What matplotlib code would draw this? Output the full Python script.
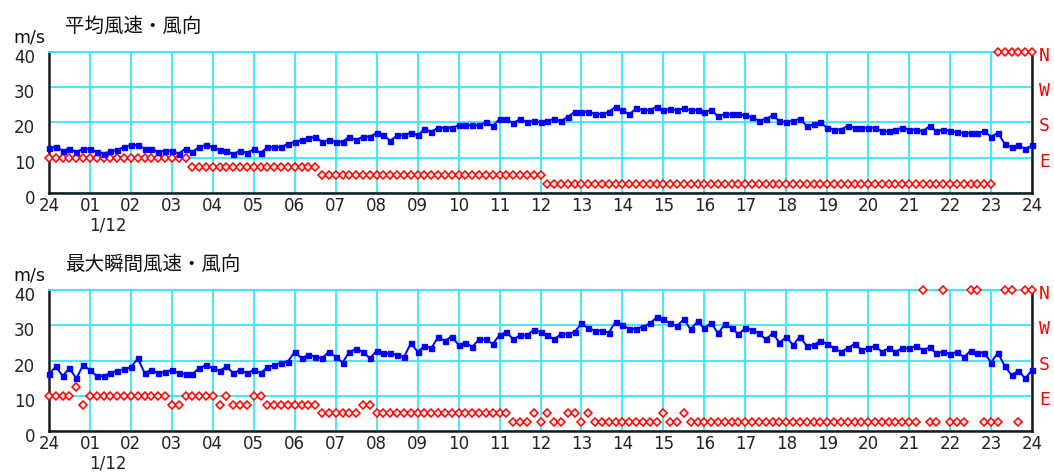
import numpy as np
import matplotlib
matplotlib.use("Agg")
import matplotlib.pyplot as plt
from matplotlib.transforms import ScaledTranslation

plt.rcParams['font.family'] = ['Noto Sans CJK JP', 'DejaVu Sans']

# ---------------- data ----------------
hour_labels = ['24', '01', '02', '03', '04', '05', '06', '07', '08', '09', '10', '11',
               '12', '13', '14', '15', '16', '17', '18', '19', '20', '21', '22', '23', '24']
date_label = '1/12'
speed_ticks = [0, 10, 20, 30, 40]
dir_axis_labels = ['E', 'S', 'W', 'N']
dir_axis_values = [10, 20, 30, 40]
# position of each compass direction on the 0-40 scale (N=40, E=10, S=20, W=30)
dir_scale = {'N': 40, 'NNE': 2.5, 'NE': 5, 'ENE': 7.5, 'E': 10, 'ESE': 12.5}

titles = ['平均風速・風向', '最大瞬間風速・風向']
unit = 'm/s'

# 10-minute values, 00:00 .. 24:00 (one row per hour)
mean_speed = [
    12.7, 13.1, 12.0, 12.6, 11.6, 12.6,
    12.6, 11.6, 11.2, 11.8, 12.2, 13.1,
    13.6, 13.6, 12.6, 12.6, 11.6, 12.0,
    12.0, 11.2, 12.6, 11.6, 13.1, 13.6,
    13.0, 12.2, 12.0, 11.0, 12.0, 11.4,
    12.4, 11.4, 13.0, 13.0, 13.0, 14.0,
    14.5, 15.0, 15.5, 16.0, 14.5, 15.0,
    14.5, 14.5, 16.0, 15.0, 16.0, 16.0,
    17.0, 16.4, 14.8, 16.4, 16.4, 17.1,
    16.4, 18.1, 17.4, 18.5, 18.5, 18.5,
    19.2, 19.2, 19.2, 19.2, 20.0, 19.0,
    21.0, 21.0, 19.8, 21.0, 20.0, 20.5,
    20.0, 20.5, 21.0, 20.4, 21.6, 23.0,
    23.0, 23.0, 22.4, 22.4, 23.0, 24.5,
    23.5, 22.3, 24.0, 23.5, 23.5, 24.5,
    23.5, 23.7, 23.5, 24.0, 23.5, 23.5,
    23.0, 23.5, 21.8, 22.3, 22.3, 22.3,
    22.0, 21.5, 20.5, 21.0, 22.0, 20.5,
    20.0, 20.5, 21.0, 19.0, 19.5, 20.0,
    18.5, 18.0, 18.0, 19.0, 18.5, 18.5,
    18.5, 18.5, 17.5, 17.5, 18.0, 18.5,
    18.0, 18.0, 17.5, 19.0, 17.5, 18.0,
    17.5, 17.3, 17.0, 17.0, 17.0, 17.5,
    16.0, 17.0, 14.0, 13.0, 13.5, 12.5,
    13.5,
]

mean_dir = """
E E E E E E
E E E E E E
E E E E E E
E E E ENE ENE ENE
ENE ENE ENE ENE ENE ENE
ENE ENE ENE ENE ENE ENE
ENE ENE ENE ENE NE NE
NE NE NE NE NE NE
NE NE NE NE NE NE
NE NE NE NE NE NE
NE NE NE NE NE NE
NE NE NE NE NE NE
NE NNE NNE NNE NNE NNE
NNE NNE NNE NNE NNE NNE
NNE NNE NNE NNE NNE NNE
NNE NNE NNE NNE NNE NNE
NNE NNE NNE NNE NNE NNE
NNE NNE NNE NNE NNE NNE
NNE NNE NNE NNE NNE NNE
NNE NNE NNE NNE NNE NNE
NNE NNE NNE NNE NNE NNE
NNE NNE NNE NNE NNE NNE
NNE NNE NNE NNE NNE NNE
NNE N N N N N
N
""".split()

gust_speed = [
    16.1, 18.3, 15.6, 17.8, 14.9, 18.7,
    17.3, 15.6, 15.6, 16.5, 17.1, 17.5,
    18.1, 20.6, 16.5, 17.3, 16.4, 16.8,
    17.3, 16.4, 16.2, 16.2, 17.8, 18.7,
    17.8, 17.1, 18.3, 16.4, 17.3, 16.4,
    17.3, 16.5, 18.1, 18.7, 19.4, 19.7,
    22.5, 20.6, 21.6, 21.1, 20.6, 22.5,
    21.1, 19.4, 22.5, 23.2, 22.5, 20.6,
    22.8, 22.0, 22.0, 21.6, 20.9, 24.9,
    22.5, 24.1, 23.5, 26.6, 25.6, 26.8,
    24.4, 25.1, 23.9, 26.0, 26.0, 24.7,
    27.2, 28.1, 26.0, 27.1, 27.1, 28.7,
    28.1, 27.1, 26.0, 27.5, 27.5, 28.1,
    30.5, 29.1, 28.5, 28.5, 27.9, 31.0,
    30.1, 29.0, 29.0, 29.6, 30.5, 32.2,
    31.7, 30.5, 29.8, 31.7, 28.8, 31.1,
    29.1, 30.7, 27.7, 30.3, 29.1, 27.5,
    29.1, 28.7, 27.7, 26.0, 27.7, 25.1,
    26.6, 24.4, 26.8, 24.1, 24.4, 25.6,
    24.7, 23.5, 22.5, 23.5, 24.7, 23.0,
    23.5, 24.1, 22.5, 23.5, 22.5, 23.5,
    23.5, 24.1, 23.0, 23.7, 22.0, 22.5,
    21.8, 22.5, 20.9, 22.8, 22.2, 22.2,
    19.4, 22.2, 18.4, 15.9, 17.1, 14.9,
    17.3,
]

gust_dir = """
E E E E ESE ENE
E E E E E E
E E E E E E
ENE ENE E E E E
E ENE E ENE ENE ENE
E E ENE ENE ENE ENE
ENE ENE ENE ENE NE NE
NE NE NE NE ENE ENE
NE NE NE NE NE NE
NE NE NE NE NE NE
NE NE NE NE NE NE
NE NE NNE NNE NNE NE
NNE NE NNE NNE NE NE
NNE NE NNE NNE NNE NNE
NNE NNE NNE NNE NNE NNE
NE NNE NNE NE NNE NNE
NNE NNE NNE NNE NNE NNE
NNE NNE NNE NNE NNE NNE
NNE NNE NNE NNE NNE NNE
NNE NNE NNE NNE NNE NNE
NNE NNE NNE NNE NNE NNE
NNE NNE N NNE NNE N
NNE NNE NNE N N NNE
NNE NNE N N NNE N
N
""".split()

# ---------------- figure ----------------
W, H = 1054, 473
fig = plt.figure(figsize=(W / 100, H / 100), dpi=100)

GRID = '#33E8F8'
BLUE = '#0000FF'
RED = '#FF0000'


def panel(top_px, bottom_px, title, speed, dirs):
    ax = fig.add_axes([49 / W, 1 - bottom_px / H, 983 / W, (bottom_px - top_px) / H])
    x = np.arange(len(speed)) / 6.0
    ax.set_xlim(0, 24)
    ax.set_ylim(0, 40)
    ax.set_xticks(range(25))
    ax.set_xticklabels(hour_labels, fontsize=12, family='DejaVu Sans')
    ax.set_yticks(speed_ticks)
    ax.set_yticklabels([str(v) for v in speed_ticks], fontsize=12, family='DejaVu Sans')
    ax.tick_params(axis='x', length=0, pad=3, colors='#222222')
    ax.tick_params(axis='y', length=0, pad=10, colors='#222222')
    off = ScaledTranslation(0, -4 / 100, fig.dpi_scale_trans)
    for lab in ax.get_yticklabels():
        lab.set_transform(lab.get_transform() + off)
    ax.grid(True, color=GRID, lw=1.3)
    ax.set_axisbelow(True)
    for s in ['left', 'bottom', 'right']:
        ax.spines[s].set_color('#1a1a1a')
        ax.spines[s].set_linewidth(1.8)
    ax.spines['top'].set_color(GRID)
    ax.spines['top'].set_linewidth(1.3)

    dvals = [dir_scale[d] for d in dirs]
    ax.plot(x, dvals, ls='none', marker='D', ms=4.0, mfc='#ffe8e8', mec=RED,
            mew=1.1, clip_on=False, zorder=3)
    ax.plot(x, speed, color=BLUE, lw=1.4, marker='s', ms=3.6, mfc=BLUE, mec=BLUE,
            clip_on=False, zorder=4)

    rt = ax.get_yaxis_transform() + ScaledTranslation(7 / 100, -4 / 100, fig.dpi_scale_trans)
    for lab, v in zip(dir_axis_labels, dir_axis_values):
        ax.text(1.0, v, lab, transform=rt, color=RED, fontsize=13,
                family='DejaVu Sans Mono', ha='left', va='center')

    ax.text(1.44, -0.165, date_label, transform=ax.get_xaxis_transform(), fontsize=12,
            family='DejaVu Sans', ha='center', va='top', color='#222222')

    fig.text(65 / W, 1 - (top_px - 26) / H, title, fontsize=14, ha='left', va='center',
             color='#111111')
    fig.text(13 / W, 1 - (top_px - 15) / H, unit, fontsize=12.5, family='DejaVu Sans',
             ha='left', va='center', color='#111111')
    return ax


panel(52, 193, titles[0], mean_speed, mean_dir)
panel(290, 431, titles[1], gust_speed, gust_dir)

fig.savefig('out.png', dpi=100)
